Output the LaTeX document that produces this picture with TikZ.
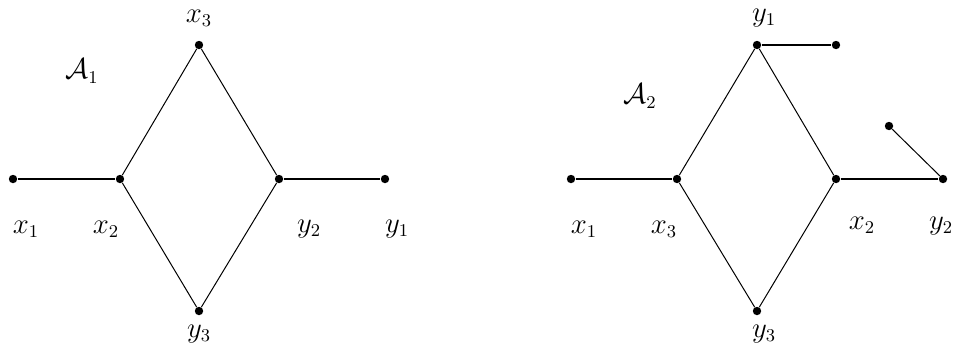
\documentclass[tikz,border=0pt]{standalone}
\begin{document}
\begin{tikzpicture}[x=0.5pt,y=-0.5pt,
  vtx/.style={circle,fill=black,inner sep=0pt,minimum size=4.2pt},
  lbl/.style={font=\fontsize{13.5}{15}\selectfont,inner sep=0pt},
  thin edge/.style={line width=0.5pt},
  thick edge/.style={line width=1.1pt}]
\useasboundingbox (0,0) rectangle (953,350);
% left graph
\node[vtx] (a1) at (13,179) {};
\node[vtx] (a2) at (120,179) {};
\node[vtx] (a3) at (199,45) {};
\node[vtx] (b3) at (199,311) {};
\node[vtx] (b2) at (279,179) {};
\node[vtx] (b1) at (385,179) {};
\draw[thick edge] (a1) -- (a2);
\draw[thick edge] (b2) -- (b1);
\draw[thin edge] (a2) -- (a3) -- (b2) -- (b3) -- (a2);
\node[lbl] (la1) at (26,229) {$x_1$};
\node[lbl] (la2) at (106,229) {$x_2$};
\node[lbl] (la3) at (199,18) {$x_3$};
\node[lbl] (lb3) at (199,334) {$y_3$};
\node[lbl] (lb2) at (309,229) {$y_2$};
\node[lbl] (lb1) at (397,229) {$y_1$};
\node[lbl] (A1) at (82,71) {$\mathcal{A}_1$};
% right graph
\node[vtx] (c1) at (571,179) {};
\node[vtx] (c3) at (677,179) {};
\node[vtx] (d1) at (757,45) {};
\node[vtx] (d3) at (757,311) {};
\node[vtx] (c2) at (836,179) {};
\node[vtx] (d2) at (943,179) {};
\node[vtx] (e1) at (836,45) {};
\node[vtx] (e2) at (889,126) {};
\draw[thick edge] (c1) -- (c3);
\draw[thick edge] (c2) -- (d2);
\draw[thick edge] (d1) -- (e1);
\draw[thin edge] (e2) -- (d2);
\draw[thin edge] (c3) -- (d1) -- (c2) -- (d3) -- (c3);
\node[lbl] (lc1) at (584,229) {$x_1$};
\node[lbl] (lc3) at (664,229) {$x_3$};
\node[lbl] (ld1) at (764,18) {$y_1$};
\node[lbl] (ld3) at (764,334) {$y_3$};
\node[lbl] (lc2) at (862,225) {$x_2$};
\node[lbl] (ld2) at (941,226) {$y_2$};
\node[lbl] (A2) at (640,96) {$\mathcal{A}_2$};
\end{tikzpicture}
\end{document}
